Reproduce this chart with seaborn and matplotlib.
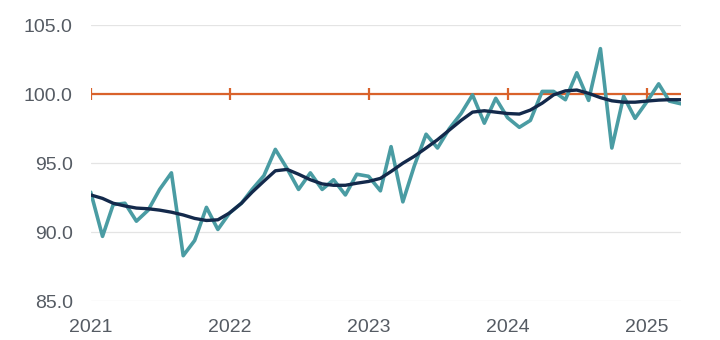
import numpy as np
import pandas as pd
import matplotlib
matplotlib.use("Agg")
import matplotlib.pyplot as plt
import seaborn as sns

# ---- data (monthly, Jan 2021 - Apr 2025) ----
months = pd.date_range("2021-01-01", "2025-04-01", freq="MS")

index_values = [
    92.9, 89.7, 92.0, 92.1, 90.8, 91.6, 93.1, 94.3, 88.3, 89.4, 91.8, 90.2,
    91.4, 92.1, 93.1, 94.1, 96.0, 94.6, 93.1, 94.3, 93.1, 93.8, 92.7, 94.2,
    94.05, 93.0, 96.2, 92.2, 94.8, 97.1, 96.1, 97.5, 98.6, 99.95, 97.9, 99.7,
    98.3, 97.6, 98.1, 100.2, 100.2, 99.6, 101.55, 99.55, 103.3, 96.1, 99.85, 98.25,
    99.45, 100.75, 99.5, 99.3,
]

trend_values = [
    92.7, 92.45, 92.1, 91.9, 91.75, 91.7, 91.6, 91.45, 91.25, 91.0, 90.85, 90.9,
    91.4, 92.1, 92.9, 93.7, 94.45, 94.55, 94.2, 93.8, 93.5, 93.4, 93.4, 93.55,
    93.68, 93.9, 94.4, 95.0, 95.5, 96.1, 96.7, 97.4, 98.1, 98.7, 98.8, 98.7,
    98.6, 98.56, 98.85, 99.35, 99.95, 100.24, 100.3, 100.06, 99.75, 99.52, 99.42, 99.42,
    99.5, 99.57, 99.6, 99.6,
]

reference_value = 100.0
year_ticks = ["2021", "2022", "2023", "2024", "2025"]
y_ticks = [85.0, 90.0, 95.0, 100.0, 105.0]

df = pd.DataFrame({
    "date": months,
    "index": index_values,
    "trend": trend_values,
    "ref": [reference_value] * len(months),
})

TEAL = "#4a9ca3"
NAVY = "#13294b"
ORANGE = "#d9622b"
GRID = "#e4e4e4"
TEXT = "#555b63"

sns.set_theme(style="white")
plt.rcParams["font.family"] = ["Liberation Sans", "DejaVu Sans"]

fig = plt.figure(figsize=(7.2, 3.4), dpi=100)
ax = fig.add_axes([0.126, 0.114, 0.820, 0.812])

for y in y_ticks:
    ax.axhline(y, color=GRID, lw=0.9, zorder=0)

jan_idx = [i for i, d in enumerate(months) if d.month == 1]
sns.lineplot(data=df, x="date", y="ref", ax=ax, color=ORANGE, lw=1.6,
             marker="|", markevery=jan_idx, markersize=9, markeredgewidth=1.6,
             markeredgecolor=ORANGE, zorder=2)
sns.lineplot(data=df, x="date", y="index", ax=ax, color=TEAL, lw=2.6, zorder=3)
sns.lineplot(data=df, x="date", y="trend", ax=ax, color=NAVY, lw=2.4, zorder=4)

ax.set_ylim(85, 105)
ax.set_xlim(months[0], months[-1])
ax.set_yticks(y_ticks)
ax.set_yticklabels([f"{v:.1f}" for v in y_ticks])
ax.set_xticks([pd.Timestamp(f"{y}-01-01") for y in year_ticks])
ax.set_xticklabels(year_ticks)
ax.tick_params(axis="both", length=0, labelsize=14, labelcolor=TEXT)
ax.tick_params(axis="y", pad=13)
ax.tick_params(axis="x", pad=13)
ax.set_xlabel("")
ax.set_ylabel("")
for s in ax.spines.values():
    s.set_visible(False)
ax.grid(False)
ax.patch.set_alpha(0)

fig.savefig("out.png", dpi=100)
